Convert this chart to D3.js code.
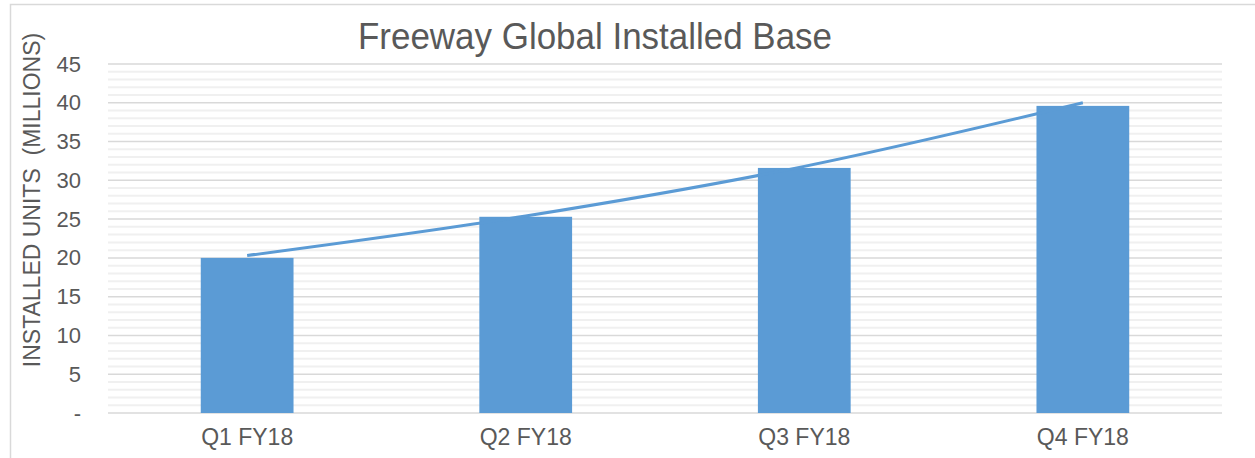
<!DOCTYPE html>
<html>
<head>
<meta charset="utf-8">
<script src="https://cdn.jsdelivr.net/npm/d3@7"></script>
<style>
  body { margin: 0; background: #fff; }
  svg text { font-family: "Liberation Sans", Arial, sans-serif; fill: #595959; }
</style>
</head>
<body>
<div id="chart"></div>
<script>
// chart data
const quarters = ['Q1 FY18', 'Q2 FY18', 'Q3 FY18', 'Q4 FY18'];
const installed = [20.0, 25.3, 31.6, 39.6];   // bars, millions
const trend = [20.3, 25.4, 31.8, 40.0];       // trendline
const yTicks = [0, 5, 10, 15, 20, 25, 30, 35, 40, 45];
const minorTicks = d3.range(0, 46);           // 1-unit minor grid

const svg_width = 1255, svg_height = 458;
const margin = {top: 64, bottom: 45, left: 108, right: 33};
const chart_width = svg_width - margin.left - margin.right;
const chart_height = svg_height - margin.top - margin.bottom;
const blue = '#5B9BD5';

const svg = d3.select('#chart').append('svg')
    .attr('width', svg_width)
    .attr('height', svg_height);

// outer chart border (runs off right/bottom edge in the source)
svg.append('rect')
    .attr('x', 10.5).attr('y', 4.5)
    .attr('width', svg_width + 10).attr('height', svg_height + 10)
    .style('fill', 'none')
    .style('stroke', '#d9d9d9')
    .style('stroke-width', 1.5);

const chart = svg.append('g')
    .attr('transform', `translate(${margin.left},${margin.top})`);

const x = d3.scaleBand()
    .domain(quarters)
    .range([0, chart_width])
    .paddingInner(0.667)
    .paddingOuter(0.333);

const y = d3.scaleLinear()
    .domain([0, 45])
    .range([chart_height, 0]);

// minor grid
chart.selectAll('line.minor')
    .data(minorTicks.filter(d => d % 5 !== 0))
    .join('line')
    .classed('minor', true)
    .attr('x1', 0).attr('x2', chart_width)
    .attr('y1', d => y(d)).attr('y2', d => y(d))
    .style('stroke', '#f0f0f0')
    .style('stroke-width', 2);

// major grid
chart.selectAll('line.major')
    .data(yTicks)
    .join('line')
    .classed('major', true)
    .attr('x1', 0).attr('x2', chart_width)
    .attr('y1', d => y(d)).attr('y2', d => y(d))
    .style('stroke', '#d9d9d9')
    .style('stroke-width', 1.5);

// bars
chart.selectAll('rect.bar')
    .data(installed)
    .join('rect')
    .classed('bar', true)
    .attr('x', (d, i) => x(quarters[i]))
    .attr('y', d => y(d))
    .attr('width', x.bandwidth())
    .attr('height', d => y(0) - y(d))
    .style('fill', blue);

// trendline
const line = d3.line()
    .x((d, i) => x(quarters[i]) + x.bandwidth() / 2)
    .y(d => y(d))
    .curve(d3.curveMonotoneX);

chart.append('path')
    .datum(trend)
    .attr('d', line)
    .style('fill', 'none')
    .style('stroke', blue)
    .style('stroke-width', 3);

// y axis labels
const yAxis = d3.axisLeft(y)
    .tickValues(yTicks)
    .tickSize(0)
    .tickPadding(27)
    .tickFormat(d => d === 0 ? '-' : d);

chart.append('g')
    .call(yAxis)
    .call(g => g.select('.domain').remove())
    .selectAll('text')
    .style('font-size', '22px')
    .style('fill', '#595959');

// x axis labels
const xAxis = d3.axisBottom(x).tickSize(0).tickPadding(16);
chart.append('g')
    .attr('transform', `translate(0,${chart_height})`)
    .call(xAxis)
    .call(g => g.select('.domain').remove())
    .selectAll('text')
    .style('font-size', '23px')
    .style('fill', '#595959');

// title
svg.append('text')
    .attr('x', 358).attr('y', 49)
    .attr('textLength', 474)
    .attr('lengthAdjust', 'spacingAndGlyphs')
    .style('font-size', '36px')
    .text('Freeway Global Installed Base');

// y axis title
svg.append('text')
    .attr('transform', 'translate(40,200) rotate(-90)')
    .attr('text-anchor', 'middle')
    .style('font-size', '23px')
    .style('white-space', 'pre')
    .text('INSTALLED UNITS  (MILLIONS)');
</script>
</body>
</html>
